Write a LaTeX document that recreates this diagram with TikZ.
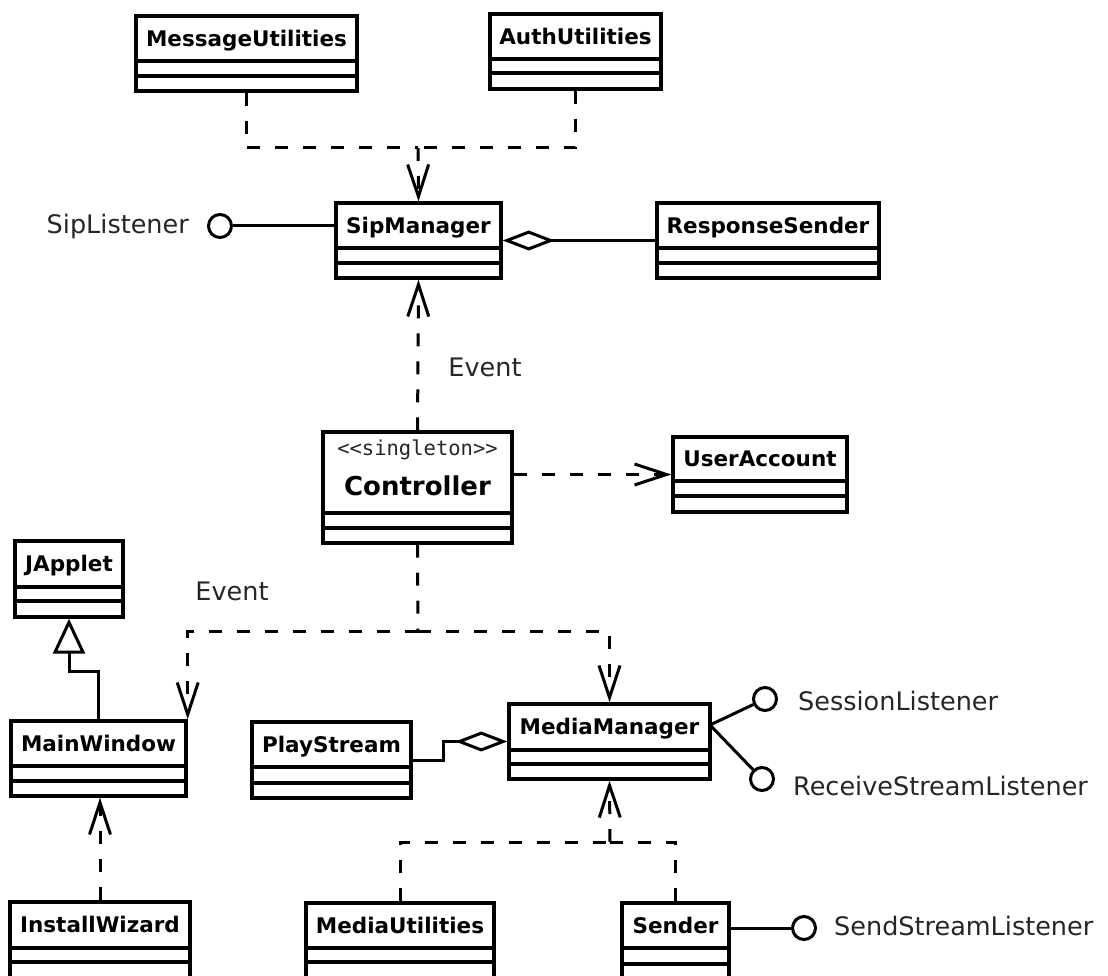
\documentclass[tikz,border=0pt]{standalone}
\usepackage{fontspec}
\setmainfont{DejaVu Sans}
\newfontfamily\monof{DejaVu Sans Mono}
\usetikzlibrary{arrows.meta,fit}

\tikzset{
  clsbox/.style={draw, line width=3.4pt, inner sep=0pt},
  clsname/.style={font=\bfseries\fontsize{21.5}{24}\selectfont, inner sep=0pt, text height=15.7pt, text depth=0pt},
  lbl/.style={font=\fontsize{25.5}{28}\selectfont, inner sep=0pt, text height=18.6pt, text depth=0pt, text=black!85},
  conn/.style={line width=3pt},
  dsh/.style={conn, dash pattern=on 13pt off 15pt},
  dep/.style={dsh, -{Straight Barb[length=32pt,width=21pt]}},
  inh/.style={conn, -{Triangle[open,length=35pt,width=32pt,fill=white]}},
  aggr/.style={conn, {Diamond[open,length=52pt,width=20pt,fill=white]}-},
  lolli/.style={circle, draw, line width=3pt, minimum size=23pt, inner sep=0pt, fill=white},
}

\newcommand\umlclass[8]{%
  \coordinate (#1-a) at (#2,#3);
  \coordinate (#1-b) at (#4,#5);
  \node[clsbox, fit=(#1-a)(#1-b)] (#1) {};
  \draw[line width=3.4pt] (#2,#6) -- (#4,#6) (#2,#7) -- (#4,#7);
  \node[clsname] (#1-t) at ({(#2+#4)/2},{(#3+#6)/2}) {#8};
}

\begin{document}
\begin{tikzpicture}[x=1pt,y=-1pt]
\useasboundingbox (0,0) rectangle (1108,976);
\fill[white] (0,0) rectangle (1108,976);
\clip (0,0) rectangle (1108,976);

% classes
\umlclass{msg}{136}{16}{357}{91}{61}{76}{MessageUtilities}
\umlclass{auth}{490}{14}{661}{89}{59}{73}{AuthUtilities}
\umlclass{sip}{336}{203}{501}{278}{248}{263}{SipManager}
\umlclass{resp}{657}{203}{879}{278}{248}{263}{ResponseSender}
\umlclass{ctrl}{323}{432}{512}{543}{513}{528}{}
\node[font=\monof\fontsize{20.5}{22}\selectfont, inner sep=0pt, text height=15pt, text depth=0pt, text=black!85] (ctrl-st) at (417.5,448) {<{}<singleton>{}>};
\node[font=\bfseries\fontsize{26}{28}\selectfont, inner sep=0pt, text height=19pt, text depth=0pt] (ctrl-n) at (417.5,486) {Controller};
\umlclass{ua}{673}{437}{847}{512}{481}{496}{UserAccount}
\umlclass{ja}{15}{541}{123}{617}{587}{601}{JApplet}
\umlclass{mw}{11}{721}{186}{796}{766}{781}{MainWindow}
\umlclass{ps}{252}{722}{411}{798}{767}{783}{PlayStream}
\umlclass{mm}{509}{704}{710}{779}{750}{764}{MediaManager}
\umlclass{iw}{10}{902}{190}{1000}{948}{962}{InstallWizard}
\umlclass{mu}{306}{903}{494}{1000}{948}{962}{MediaUtilities}
\umlclass{snd}{622}{903}{729}{1000}{948}{964}{Sender}

% interfaces
\node[lolli] (sipl) at (220,226) {};
\node[lbl, anchor=east] (sipl-t) at (189,224) {SipListener};
\node[lolli] (sesl) at (765,699) {};
\node[lbl, anchor=west] (sesl-t) at (798,701) {SessionListener};
\node[lolli] (recl) at (762,779) {};
\node[lbl, anchor=west] (recl-t) at (793,786) {ReceiveStreamListener};
\node[lolli] (sendl) at (804,928) {};
\node[lbl, anchor=west] (sendl-t) at (834,926) {SendStreamListener};

% labels
\node[lbl] (ev1) at (485,367) {Event};
\node[lbl] (ev2) at (232,591) {Event};

% junctions
\coordinate (j1) at (418,148);
\coordinate (j2) at (418,631);
\coordinate (j3) at (610,842);
\coordinate (b1) at (69,671);
\coordinate (mmp) at (710,725);
\coordinate (pb) at (443,741.5);

% connectors
\draw[dsh] (msg.south) |- (j1);
\draw[dsh] (auth.south) |- (j1);
\draw[dep] (j1) -- (sip.north);
\draw[conn] (sipl.east) -- (sipl.east -| sip.west);
\draw[aggr] (sip.east) -- (resp.west);
\draw[dep] (ctrl.north) -- (sip.south);
\draw[dep] (ctrl.east |- ua.west) -- (ua.west);
\draw[dsh] (ctrl.south) -- (j2);
\draw[dep] (j2) -| (mw.north east);
\draw[dep] (j2) -| (mm.north);
\draw[inh] (mw.north) |- (b1) -- (ja.south);
\draw[dep] (iw.north) -- (iw.north |- mw.south);
\draw[aggr] (mm.west) -- (pb) |- (ps.east);
\draw[conn] (mmp) -- (sesl);
\draw[conn] (mmp) -- (recl);
\draw[dsh] (mu.north) |- (j3);
\draw[dsh] (snd.north) |- (j3);
\draw[dep] (j3) -- (mm.south);
\draw[conn] (snd.east |- sendl) -- (sendl);
\end{tikzpicture}
\end{document}
